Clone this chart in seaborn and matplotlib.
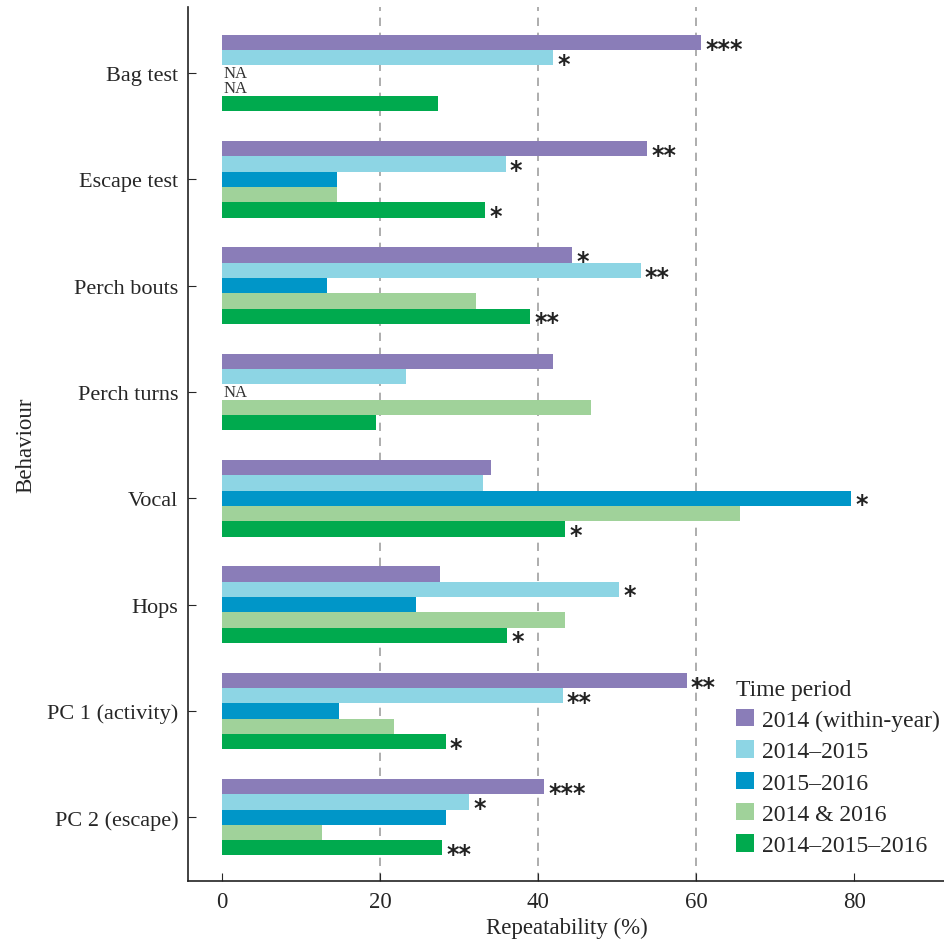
import numpy as np
import pandas as pd
import matplotlib
matplotlib.use('Agg')
import matplotlib.pyplot as plt
import seaborn as sns

behaviours = ['Bag test', 'Escape test', 'Perch bouts', 'Perch turns',
              'Vocal', 'Hops', 'PC 1 (activity)', 'PC 2 (escape)']
periods = ['2014 (within-year)', '2014\u20132015', '2015\u20132016',
           '2014 & 2016', '2014\u20132015\u20132016']
colors = ['#8a7db8', '#8dd5e4', '#0096c8', '#a0d29a', '#00aa4e']

# repeatability (%) per period, NaN = NA
r_2014 = [60.6, 53.8, 44.3, 41.9, 34.1, 27.6, 58.8, 40.8]
r_1415 = [41.9, 35.9, 53.0, 23.3, 33.0, 50.3, 43.1, 31.3]
r_1516 = [np.nan, 14.6, 13.3, np.nan, 79.6, 24.6, 14.8, 28.4]
r_14_16 = [np.nan, 14.6, 32.1, 46.7, 65.5, 43.4, 21.8, 12.7]
r_141516 = [27.4, 33.3, 39.0, 19.5, 43.4, 36.1, 28.3, 27.9]

s_2014 = ['***', '**', '*', '', '', '', '**', '***']
s_1415 = ['*', '*', '**', '', '', '*', '**', '*']
s_1516 = ['', '', '', '', '*', '', '', '']
s_14_16 = ['', '', '', '', '', '', '', '']
s_141516 = ['', '*', '**', '', '*', '*', '*', '**']

values = [r_2014, r_1415, r_1516, r_14_16, r_141516]
stars = [s_2014, s_1415, s_1516, s_14_16, s_141516]

rows = []
for p, vals, sts in zip(periods, values, stars):
    for b, v, s in zip(behaviours, vals, sts):
        rows.append({'Behaviour': b, 'Period': p, 'R': v, 'Star': s})
df = pd.DataFrame(rows)
plotdf = df.dropna(subset=['R'])

sns.set_style('ticks')
plt.rcParams['font.family'] = ['Liberation Serif', 'DejaVu Serif']

fig = plt.figure(figsize=(9.45, 9.45), dpi=100)
ax = fig.add_axes([188 / 945, 63 / 945, 757 / 945, 874 / 945])

sns.barplot(data=plotdf, y='Behaviour', x='R', hue='Period',
            order=behaviours, hue_order=periods, palette=colors,
            orient='h', width=0.72, ax=ax, errorbar=None, saturation=1,
            linewidth=0)

for x in [20, 40, 60]:
    ax.axvline(x, color='#a0a0a0', ls=(0, (5, 4)), lw=1.2, zorder=0)

# significance stars and NA labels
for j, cont in enumerate(ax.containers):
    p = periods[j]
    sub = plotdf[plotdf['Period'] == p]
    offset = None
    for bar in cont:
        yc = bar.get_y() + bar.get_height() / 2
        idx = int(round(yc))
        offset = yc - idx
        star = sub[sub['Behaviour'] == behaviours[idx]]['Star'].values
        if len(star) and star[0]:
            ax.annotate(star[0], (bar.get_width(), yc), xytext=(3, -4.5),
                        textcoords='offset points', ha='left', va='center',
                        fontsize=17, fontweight='bold', family='DejaVu Sans',
                        color='#222222')
    for i, b in enumerate(behaviours):
        if np.isnan(values[j][i]):
            ax.text(0.2, i + offset, 'NA', ha='left', va='center',
                    fontsize=12, color='#333333')

ax.set_xlim(-4.3, 91.5)
ax.set_ylim(7.6, -0.62)
ax.set_xticks([0, 20, 40, 60, 80])
ax.tick_params(axis='x', direction='in', length=6, labelsize=16.5, pad=7)
ax.tick_params(axis='y', direction='in', length=6, labelsize=16, pad=7)
ax.set_xlabel('Repeatability (%)', fontsize=16.5, labelpad=4)
ax.set_ylabel('Behaviour', fontsize=16.5, labelpad=8)
for s in ['top', 'right']:
    ax.spines[s].set_visible(False)
for s in ['left', 'bottom']:
    ax.spines[s].set_linewidth(1.2)
    ax.spines[s].set_color('#222222')

leg = ax.legend(title='Time period', loc='lower right', frameon=False,
                fontsize=17, title_fontsize=17, handlelength=0.75,
                handleheight=0.75, handletextpad=0.35, labelspacing=0.4,
                borderaxespad=0.2, bbox_to_anchor=(1.012, 0.012))
leg._legend_box.align = 'left'

fig.savefig('out.png', dpi=100)
